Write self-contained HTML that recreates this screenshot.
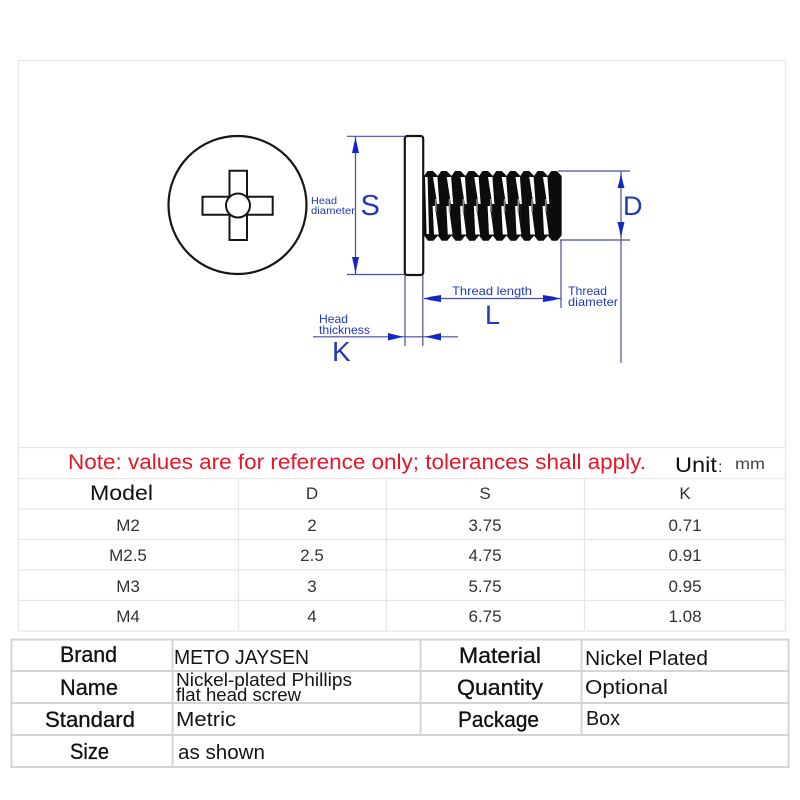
<!DOCTYPE html>
<html lang="en"><head><meta charset="utf-8"><title>Screw dimensions</title>
<style>
html,body{margin:0;padding:0;background:#fff;width:800px;height:800px;overflow:hidden}
svg{display:block}
text{font-family:"Liberation Sans",sans-serif}
.b{fill:#2338bd}
.d{stroke:#4a4f92;stroke-width:1.2;fill:none}
.a{fill:#1427c4}
.g{fill:#333;font-size:17px}
.t{fill:#111;font-size:22px;stroke:#111;stroke-width:.3}
.v{fill:#151515;font-size:20px}
</style></head><body>
<svg width="800" height="800" viewBox="0 0 800 800" xmlns="http://www.w3.org/2000/svg">
<rect width="800" height="800" fill="#fff"/>
<!-- spec table grid -->
<g stroke="#e6e6e6" stroke-width="1.2" fill="none">
<rect x="18.5" y="60.5" width="767" height="570.5"/>
<path d="M18 447.5H786M18 478.5H786M18 509H786M18 539.5H786M18 570H786M18 600.5H786"/>
<path d="M238.5 478V631M386.5 478V631M584.5 478V631"/>
</g>
<!-- top view -->
<g fill="none" stroke="#161616" stroke-width="2.2">
<circle cx="237.5" cy="205" r="69"/>
<path d="M229.5 196.7V170.8H247V196.7H272.7V214.7H247V240H229.5V214.7H202.5V196.7Z" stroke-width="2"/>
<circle cx="238" cy="205.5" r="12" fill="#fff" stroke-width="2"/>
</g>
<!-- side view: head -->
<rect x="404.8" y="136" width="18.4" height="139" rx="2.5" fill="#fff" stroke="#161616" stroke-width="2.2"/>
<!-- thread -->
<defs>
<polygon id="tooth" points="0,176 3.5,171 9,171 13.9,176 13.9,235.5 9.5,240.8 4,240.8 0,235.5" fill="#0c0c0c"/>
<g id="sliver" fill="#fff">
<polygon points="9,177 13.4,177 15.4,204 13.2,204"/>
<polygon points="8.6,206 11,206 14.8,234.5 10,234.5"/>
<rect x="11" y="199" width="1.6" height="13" fill="#8a8a8a"/>
</g>
</defs>
<g>
<use href="#tooth" x="424"/><use href="#tooth" x="437.75"/><use href="#tooth" x="451.5"/><use href="#tooth" x="465.25"/><use href="#tooth" x="479"/><use href="#tooth" x="492.75"/><use href="#tooth" x="506.5"/><use href="#tooth" x="520.25"/><use href="#tooth" x="534"/><use href="#tooth" x="547.75"/>
</g>
<g>
<use href="#sliver" x="424"/><use href="#sliver" x="437.75"/><use href="#sliver" x="451.5"/><use href="#sliver" x="465.25"/><use href="#sliver" x="479"/><use href="#sliver" x="492.75"/><use href="#sliver" x="506.5"/><use href="#sliver" x="520.25"/><use href="#sliver" x="534"/>
</g>
<polygon points="425,177 427.6,177 429,234 426.6,234" fill="#fff"/>
<!-- dimension lines -->
<path class="d" d="M347 136.3H405M347 274.5H405M355.5 136V274M558 171H630M560 240H630M621 171V363M561 240V308M424 298.5H561M405 275V346M422.8 275V346M313 336.8H458"/>
<g class="a">
<polygon points="355.5,137 357,144 359,153 352,153 354,144"/><polygon points="355.5,273.5 357,266 359,257 352,257 354,266"/>
<polygon points="621,173 622.6,181 624.5,188 617.5,188 619.4,181"/><polygon points="621,238 622.6,230 624.5,222 617.5,222 619.4,230"/>
<polygon points="424,298.5 431,296.6 441,295 441,302 431,300.4"/><polygon points="560,298.5 553,296.6 543,295 543,302 553,300.4"/>
<polygon points="403.5,336.8 396,335 388,333 388,340.5 396,338.6"/><polygon points="425,336.8 433,335 441,333 441,340.5 433,338.6"/>
</g>
<!-- dimension labels -->
<text class="b" x="311" y="204" font-size="10.5" textLength="26" lengthAdjust="spacingAndGlyphs">Head</text>
<text class="b" x="311" y="214" font-size="10.5" textLength="44" lengthAdjust="spacingAndGlyphs">diameter</text>
<text class="b" x="360.5" y="215" font-size="29">S</text>
<text class="b" x="623" y="215" font-size="27">D</text>
<text class="b" x="485" y="324" font-size="27">L</text>
<text class="b" x="332" y="361" font-size="28">K</text>
<text class="b" x="452" y="295" font-size="12" textLength="80" lengthAdjust="spacingAndGlyphs">Thread length</text>
<text class="b" x="568" y="295" font-size="12" textLength="39" lengthAdjust="spacingAndGlyphs">Thread</text>
<text class="b" x="568" y="306" font-size="12" textLength="50" lengthAdjust="spacingAndGlyphs">diameter</text>
<text class="b" x="319" y="323" font-size="12" textLength="29" lengthAdjust="spacingAndGlyphs">Head</text>
<text class="b" x="319" y="334" font-size="12" textLength="51" lengthAdjust="spacingAndGlyphs">thickness</text>
<!-- note row -->
<text x="68" y="469" font-size="21" fill="#e0182a" textLength="578" lengthAdjust="spacingAndGlyphs">Note: values are for reference only; tolerances shall apply.</text>
<text x="675" y="472" font-size="21" fill="#111" textLength="42" lengthAdjust="spacingAndGlyphs">Unit</text>
<text x="718" y="472" font-size="16" fill="#333">:</text>
<text x="735" y="469" font-size="16" fill="#444" textLength="30" lengthAdjust="spacingAndGlyphs">mm</text>
<!-- spec table -->
<text x="90" y="500" font-size="21" fill="#111" textLength="63" lengthAdjust="spacingAndGlyphs">Model</text>
<g class="g">
<text x="312" y="499" text-anchor="middle">D</text><text x="485" y="499" text-anchor="middle">S</text><text x="685" y="499" text-anchor="middle">K</text>
<text x="128" y="531" text-anchor="middle">M2</text><text x="312" y="531" text-anchor="middle">2</text><text x="485" y="531" text-anchor="middle">3.75</text><text x="685" y="531" text-anchor="middle">0.71</text>
<text x="128" y="561" text-anchor="middle">M2.5</text><text x="312" y="561" text-anchor="middle">2.5</text><text x="485" y="561" text-anchor="middle">4.75</text><text x="685" y="561" text-anchor="middle">0.91</text>
<text x="128" y="592" text-anchor="middle">M3</text><text x="312" y="592" text-anchor="middle">3</text><text x="485" y="592" text-anchor="middle">5.75</text><text x="685" y="592" text-anchor="middle">0.95</text>
<text x="128" y="622" text-anchor="middle">M4</text><text x="312" y="622" text-anchor="middle">4</text><text x="485" y="622" text-anchor="middle">6.75</text><text x="685" y="622" text-anchor="middle">1.08</text>
</g>
<!-- info table -->
<g stroke="#d8d4d2" stroke-width="2" fill="none">
<rect x="11.5" y="639.5" width="777" height="127.5"/>
<path d="M11 671H789M11 703H789M11 735H789M172.5 639V767M420.5 639V735M581.5 639V735"/>
</g>
<text class="t" x="60" y="662" textLength="57" lengthAdjust="spacingAndGlyphs">Brand</text>
<text class="t" x="60" y="695" textLength="58" lengthAdjust="spacingAndGlyphs">Name</text>
<text class="t" x="45" y="727" textLength="90" lengthAdjust="spacingAndGlyphs">Standard</text>
<text class="t" x="70" y="759" textLength="39" lengthAdjust="spacingAndGlyphs">Size</text>
<text class="t" x="459" y="663" textLength="82" lengthAdjust="spacingAndGlyphs">Material</text>
<text class="t" x="457" y="695" textLength="86" lengthAdjust="spacingAndGlyphs">Quantity</text>
<text class="t" x="458" y="727" textLength="81" lengthAdjust="spacingAndGlyphs">Package</text>
<text class="v" x="174" y="664" textLength="135" lengthAdjust="spacingAndGlyphs">METO JAYSEN</text>
<text class="v" x="176" y="686" style="font-size:18px" textLength="176" lengthAdjust="spacingAndGlyphs">Nickel-plated Phillips</text>
<text class="v" x="176" y="701" style="font-size:18px" textLength="125" lengthAdjust="spacingAndGlyphs">flat head screw</text>
<text class="v" x="176" y="726" textLength="60" lengthAdjust="spacingAndGlyphs">Metric</text>
<text class="v" x="178" y="759" textLength="87" lengthAdjust="spacingAndGlyphs">as shown</text>
<text class="v" x="585" y="665" textLength="123" lengthAdjust="spacingAndGlyphs">Nickel Plated</text>
<text class="v" x="585" y="694" textLength="83" lengthAdjust="spacingAndGlyphs">Optional</text>
<text class="v" x="586" y="725" textLength="34" lengthAdjust="spacingAndGlyphs">Box</text>
</svg>
</body></html>
